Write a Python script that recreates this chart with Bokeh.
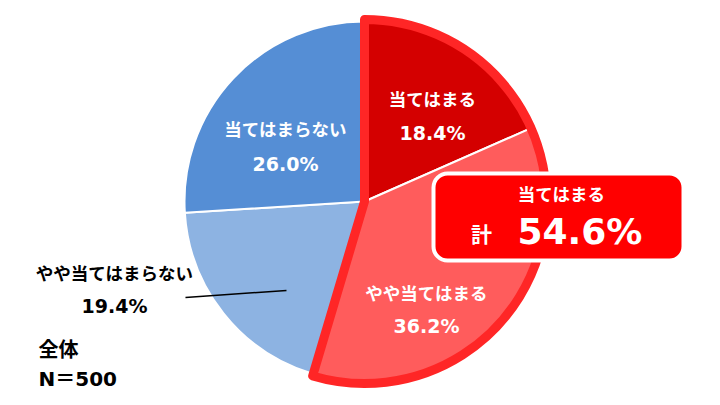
import numpy as np
from bokeh.plotting import figure
from bokeh.models import Range1d, BoxAnnotation, ColumnDataSource
from bokeh.core.properties import value
from bokeh.embed import file_html
from bokeh.resources import INLINE

# ---- data ----
categories = ["当てはまる", "やや当てはまる", "やや当てはまらない", "当てはまらない"]
shares = [18.4, 36.2, 19.4, 26.0]
pct_labels = ["18.4%", "36.2%", "19.4%", "26.0%"]
colors = ["#D40000", "#FF5C5C", "#8DB3E2", "#558ED5"]
total_title = "当てはまる"
total_prefix = "計"
total_label = "54.6%"
sample_labels = ["全体", "N＝500"]

JP = value("Noto Sans CJK JP")
NUM = value("DejaVu Sans")

p = figure(width=712, height=400, x_range=Range1d(0, 712), y_range=Range1d(5, 405),
           output_backend="svg", toolbar_location=None, min_border=0)
p.axis.visible = False
p.grid.visible = False
p.outline_line_color = None
p.background_fill_color = "white"
p.border_fill_color = "white"

frac = np.array(shares) / 100.0
cum = np.concatenate([[0.0], np.cumsum(frac)])
start = np.pi / 2 - cum[1:] * 2 * np.pi
end = np.pi / 2 - cum[:-1] * 2 * np.pi

CX, CY = 364, 204
R_red, R_blue = 182, 180
rr = [R_red, R_red, R_blue, R_blue]

src = ColumnDataSource(dict(x=[CX] * 4, y=[CY] * 4, r=rr, start=start, end=end, color=colors))
p.wedge(x="x", y="y", radius="r", start_angle="start", end_angle="end",
        fill_color="color", line_color="white", line_width=2, source=src)
# outline around the two "当てはまる" slices
p.wedge(x=CX, y=CY, radius=R_red, start_angle=start[1], end_angle=end[0],
        fill_color=None, line_color="#FF2626", line_width=9, line_join="round")

def txt(x, y, s, font, size, color="white", align="center", level=None):
    r = p.text(x=[x], y=[y], text=[s], text_font=font, text_font_size=size,
               text_font_style="bold", text_color=color, text_align=align,
               text_baseline="middle")
    if level:
        r.level = level
    return r

txt(432, 405 - 98, categories[0], JP, "17.5px")
txt(432, 405 - 132, pct_labels[0], NUM, "19px")
txt(426, 405 - 292, categories[1], JP, "17.5px")
txt(426, 405 - 325, pct_labels[1], NUM, "19px")
txt(285, 405 - 128, categories[3], JP, "17.5px")
txt(285, 405 - 163, pct_labels[3], NUM, "19px")

# outside label
txt(114, 405 - 272, categories[2], JP, "17.5px", color="black")
txt(114, 405 - 305, pct_labels[2], NUM, "19px", color="black")
p.line(x=[185, 286], y=[405 - 297, 405 - 290], line_color="black", line_width=1.5)

txt(38, 405 - 348, sample_labels[0], JP, "20px", color="black", align="left")
txt(38, 405 - 378, sample_labels[1], value("DejaVu Sans, Noto Sans CJK JP"), "20px",
    color="black", align="left")

# total box
box = BoxAnnotation(left=433, right=683, top=405 - 173, bottom=405 - 260,
                    fill_color="#FF0000", fill_alpha=1.0, line_color="white",
                    line_width=4, line_alpha=1.0, border_radius=14)
p.add_layout(box)
txt(561, 405 - 193, total_title, JP, "17.5px", level="overlay")
txt(481, 405 - 232, total_prefix, JP, "21px", level="overlay")
txt(517, 405 - 231, total_label, NUM, "36px", align="left", level="overlay")

open("out.html", "w").write(file_html(p, INLINE))
